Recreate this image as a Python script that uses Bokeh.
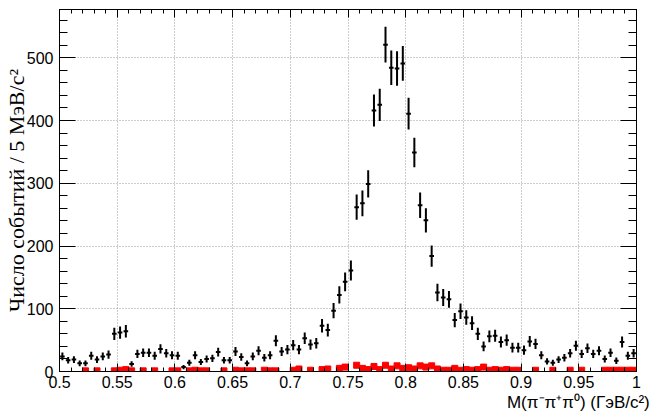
import numpy as np
from bokeh.plotting import figure
from bokeh.models import (LinearAxis, SingleIntervalTicker, CustomJSTickFormatter,
                          Range1d, ColumnDataSource, Grid, Title)
from bokeh.embed import file_html
from bokeh.resources import INLINE

# ---- data ----
mass_lo = 0.5      # GeV/c^2, left edge of first bin
bin_width = 0.005  # 5 MeV/c^2 bins

counts = [24, 18, 19, 13, 13, 25, 19, 24, 27, 60,
          62, 64, 12, 28, 30, 30, 25, 36, 29, 26,
          25, 7, 14, 26, 15, 20, 21, 31, 18, 18,
          32, 23, 13, 24, 33, 22, 26, 49, 32, 35,
          42, 35, 53, 43, 45, 73, 66, 97, 122, 143,
          161, 262, 268, 299, 416, 425, 521, 484, 483, 491,
          411, 349, 265, 241, 184, 126, 118, 115, 82, 96,
          86, 77, 60, 40, 56, 57, 47, 50, 38, 38,
          34, 48, 44, 26, 16, 14, 19, 22, 29, 41,
          28, 37, 28, 33, 20, 30, 17, 47, 25, 29]

errors = [6.1, 5.3, 5.4, 4.5, 4.5, 6.3, 5.4, 6.1, 6.5, 9.7,
          9.8, 10.0, 4.3, 6.6, 6.8, 6.8, 6.3, 7.5, 6.7, 6.4,
          6.3, 3.3, 4.7, 6.4, 4.8, 5.6, 5.7, 7.0, 5.3, 5.3,
          7.1, 6.0, 4.5, 6.1, 7.2, 5.9, 6.4, 8.8, 7.1, 7.4,
          8.1, 7.4, 9.1, 8.2, 8.4, 10.7, 10.2, 12.3, 13.8, 14.9,
          15.9, 20.2, 20.5, 21.6, 25.5, 25.8, 28.5, 27.5, 27.5, 27.7,
          25.3, 23.4, 20.3, 19.4, 17.0, 14.0, 13.6, 13.4, 11.3, 12.2,
          11.6, 11.0, 9.7, 7.9, 9.4, 9.4, 8.6, 8.8, 7.7, 7.7,
          7.3, 8.7, 8.3, 6.4, 5.0, 4.7, 5.4, 5.9, 6.7, 8.0,
          6.6, 7.6, 6.6, 7.2, 5.6, 6.8, 5.2, 8.6, 6.3, 6.7]

# background (red); 0 = empty bin (not drawn)
background = [0, 0, 0, 0, 1, 0, 1, 0, 0, 1,
              2, 3, 1, 0, 1, 0, 1, 0, 0, 1,
              1, 0, 1, 2, 1, 1, 0, 0, 1, 0,
              2, 1, 1, 1, 0, 2, 1, 1, 0, 0,
              2, 4, 0, 2, 0, 3, 4, 0, 5, 7,
              0, 10, 5, 3, 8, 3, 10, 4, 9, 5,
              6, 4, 9, 7, 9, 4, 2, 2, 5, 2,
              3, 2, 3, 7, 2, 3, 2, 3, 2, 2,
              0, 0, 2, 0, 0, 2, 0, 0, 2, 0,
              2, 0, 0, 0, 2, 2, 2, 2, 2, 2]

x_title = "M(\u03c0\u207b\u03c0\u207a\u03c0\u2070)  (\u0413\u044d\u0412/c\u00b2)"
y_title = "\u0427\u0438\u0441\u043b\u043e \u0441\u043e\u0431\u044b\u0442\u0438\u0439 / 5 \u041c\u044d\u0412/c\u00b2"

# ---- derived ----
n = len(counts)
centers = mass_lo + bin_width * (np.arange(n) + 0.5)
cnt = np.array(counts, dtype=float)
err = np.array(errors, dtype=float)
half = bin_width * 0.4

src = ColumnDataSource(dict(x=centers, y=cnt, lo=cnt - err, hi=cnt + err,
                            xl=centers - half, xr=centers + half))
bkg = np.array(background, dtype=float)
mask = bkg > 0
bsrc = ColumnDataSource(dict(x=centers[mask], y=bkg[mask]))

p = figure(width=659, height=411,
           x_range=Range1d(0.5, 1.0), y_range=Range1d(0, 577),
           x_axis_type=None, y_axis_type=None,
           output_backend="svg", toolbar_location=None,
           min_border_left=56, min_border_right=23,
           min_border_top=9, min_border_bottom=36)
p.outline_line_color = "black"
p.outline_line_width = 1
p.background_fill_color = "white"
p.border_fill_color = "white"

xt = SingleIntervalTicker(interval=0.05, num_minor_ticks=5)
yt = SingleIntervalTicker(interval=100, num_minor_ticks=5)
xfmt = CustomJSTickFormatter(code="return String(parseFloat(tick.toFixed(3)));")
blank = CustomJSTickFormatter(code="return '';")

def style(ax, major, minor):
    ax.major_tick_in = major
    ax.major_tick_out = 0
    ax.minor_tick_in = minor
    ax.minor_tick_out = 0
    ax.axis_line_color = "black"
    ax.major_tick_line_color = "black"
    ax.minor_tick_line_color = "black"
    ax.major_label_text_font = "Liberation Sans"
    ax.major_label_text_font_size = "16px"
    ax.major_label_text_color = "black"
    ax.axis_label_text_font_style = "normal"
    ax.axis_label_text_color = "black"

xb = LinearAxis(ticker=xt, formatter=xfmt)
style(xb, 8, 4)
xb.major_label_standoff = 4
p.add_layout(xb, "below")

xtitle = Title(text=x_title, align="right", offset=-18, standoff=0,
               text_font="Liberation Sans", text_font_size="17px",
               text_font_style="normal", text_color="black")
p.add_layout(xtitle, "below")

xa = LinearAxis(ticker=xt, formatter=blank)
style(xa, 8, 4)
xa.major_label_standoff = 0
p.add_layout(xa, "above")

yl = LinearAxis(ticker=yt, axis_label=y_title)
style(yl, 16, 8)
yl.major_label_standoff = 6
yl.axis_label_text_font = "Liberation Serif"
yl.axis_label_text_font_size = "22px"
yl.axis_label_standoff = -5
p.add_layout(yl, "left")

yr = LinearAxis(ticker=yt, formatter=blank)
style(yr, 16, 8)
yr.major_label_standoff = 0
p.add_layout(yr, "right")

for dim, tk in ((0, xt), (1, yt)):
    g = Grid(dimension=dim, ticker=tk)
    g.grid_line_color = "#9a9a9a"
    g.grid_line_dash = "1 2"
    g.grid_line_width = 1
    p.add_layout(g)

# black data points with error bars
p.segment(x0="x", y0="lo", x1="x", y1="hi", source=src, line_color="black", line_width=2)
p.segment(x0="xl", y0="y", x1="xr", y1="y", source=src, line_color="black", line_width=2)

# red background points
p.scatter(x="x", y="y", source=bsrc, marker="square", size=6,
          fill_color="#ff0000", line_color="#ff0000")

open("out.html", "w").write(file_html(p, INLINE))
